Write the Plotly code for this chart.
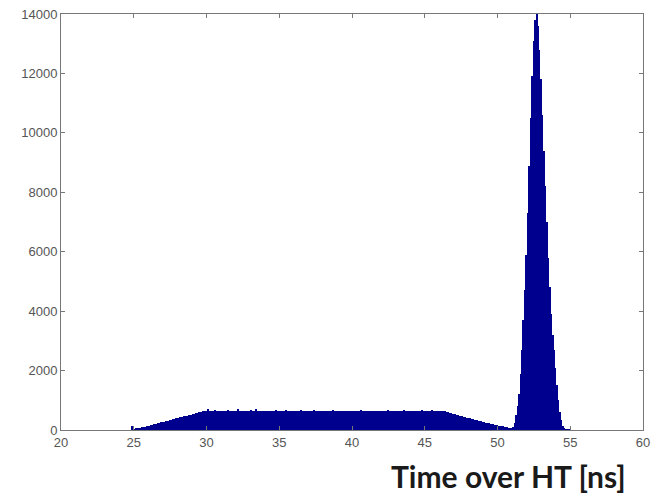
import numpy as np
import plotly.graph_objects as go

# Histogram of "Time over HT" (ns); bin width 0.1 ns, first bin centre 24.9
bin_start = 24.9
bin_width = 0.1
counts = [
    150,
    # 25.0 - 25.9
    25, 30, 45, 50, 70, 80, 85, 100, 115, 125,
    # 26
    140, 150, 165, 175, 190, 200, 215, 228, 240, 255,
    # 27
    270, 280, 295, 305, 318, 340, 350, 360, 372, 388,
    # 28
    400, 410, 425, 432, 445, 460, 470, 480, 495, 505,
    # 29
    520, 535, 550, 562, 575, 590, 600, 615, 625, 632,
    # 30
    650, 710, 645, 650, 638, 642, 660, 632, 648, 640,
    # 31
    635, 650, 642, 630, 648, 660, 638, 645, 632, 650,
    # 32
    640, 655, 700, 638, 644, 630, 652, 640, 635, 648,
    # 33
    642, 660, 635, 650, 705, 640, 632, 648, 638, 645,
    # 34
    635, 650, 640, 632, 656, 642, 630, 648, 660, 635,
    # 35
    640, 632, 650, 638, 645, 680, 635, 648, 640, 630,
    # 36
    645, 638, 650, 632, 640, 660, 635, 648, 638, 642,
    # 37
    632, 650, 640, 635, 675, 645, 630, 652, 638, 640,
    # 38
    648, 635, 640, 630, 655, 638, 642, 660, 632, 645,
    # 39
    638, 650, 630, 645, 640, 635, 652, 638, 648, 632,
    # 40
    640, 645, 632, 650, 638, 642, 685, 635, 648, 640,
    # 41
    632, 650, 640, 638, 645, 630, 652, 640, 635, 648,
    # 42
    642, 635, 650, 632, 640, 660, 638, 645, 630, 652,
    # 43
    640, 635, 648, 638, 642, 632, 680, 640, 635, 650,
    # 44
    638, 645, 632, 650, 640, 635, 648, 642, 665, 638,
    # 45
    640, 650, 632, 645, 638, 660, 635, 642, 630, 648,
    # 46
    640, 632, 645, 635, 625, 612, 598, 582, 568, 552,
    # 47
    538, 524, 510, 496, 482, 468, 455, 442, 428, 415,
    # 48
    402, 390, 376, 364, 350, 338, 325, 312, 300, 288,
    # 49
    275, 262, 250, 238, 226, 214, 202, 192, 182, 172,
    # 50
    160, 150, 140, 130, 120, 110, 100, 90, 80, 70,
    # 51
    60, 90, 250, 500, 800, 1200, 1900, 2700, 3700, 4700,
    # 52
    5900, 7300, 8900, 10500, 11900, 13100, 13800, 14000, 13600, 12800,
    # 53
    11800, 10600, 9400, 8200, 7000, 5800, 4800, 3900, 3200, 2700,
    # 54
    2100, 1500, 1000, 600, 340, 150, 50, 20, 10, 5,
    # 55
    30,
]
bin_centres = [round(bin_start + i * bin_width, 2) for i in range(len(counts))]

x_ticks = [20, 25, 30, 35, 40, 45, 50, 55, 60]
y_ticks = [0, 2000, 4000, 6000, 8000, 10000, 12000, 14000]
x_title = "Time over HT [ns]"

fig = go.Figure()
fig.add_trace(go.Bar(
    x=bin_centres, y=counts, width=bin_width,
    marker=dict(color="rgb(0,0,143)", line=dict(width=0)),
))

tickfont = dict(family="Liberation Sans, Arial, sans-serif", size=13, color="#555555")
fig.update_layout(
    width=655, height=496,
    margin=dict(l=61, r=12, t=14, b=66),
    paper_bgcolor="white", plot_bgcolor="white",
    bargap=0, showlegend=False,
    xaxis=dict(range=[20, 60], tickvals=x_ticks, ticktext=[str(v) for v in x_ticks],
               ticks="inside", ticklen=4, tickcolor="#777777", showline=True,
               linecolor="#777777", linewidth=1, mirror="ticks", showgrid=False,
               zeroline=False, tickfont=tickfont, automargin=False),
    yaxis=dict(range=[0, 14000], tickvals=y_ticks, ticktext=[str(v) for v in y_ticks],
               ticks="inside", ticklen=4, tickcolor="#777777", showline=True,
               linecolor="#777777", linewidth=1, mirror="ticks", showgrid=False,
               zeroline=False, tickfont=tickfont, automargin=False),
    annotations=[dict(
        text="<b>" + x_title + "</b>", xref="paper", yref="paper",
        x=(628 - 61) / 582, y=(430 - 476) / 416, xanchor="right", yanchor="middle",
        showarrow=False, font=dict(family="Lato, sans-serif", size=30, color="#1a1a1a"),
    )],
)

# remove the browser's default 8px page margin so the figure sits at the corner
fig.write_html("out.html", config={"displayModeBar": False},
               post_script="document.body.style.margin='0';")
